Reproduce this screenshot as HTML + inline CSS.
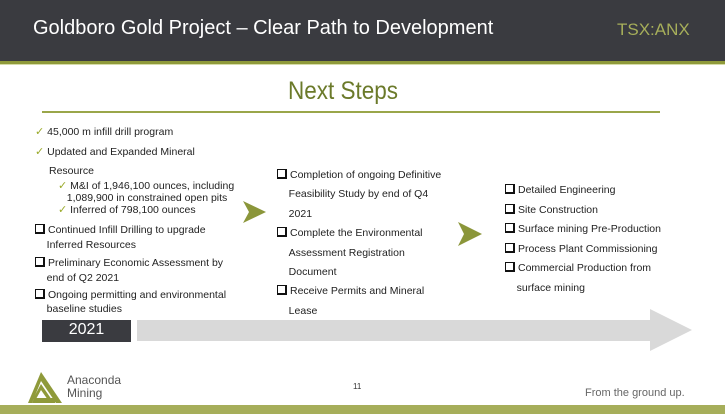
<!DOCTYPE html>
<html><head><style>
body{margin:0;width:725px;height:414px;position:relative;overflow:hidden;background:#fff;font-family:"Liberation Sans Narrow","Liberation Sans",sans-serif;}
.a{position:absolute;white-space:nowrap;}
.t{font-size:10.5px;color:#222;}
.ck{color:#9aaa2a;font-size:11px;}
.bx{display:inline-block;width:7px;height:7px;border:1.5px solid #111;border-right-width:2px;border-bottom-width:2px;margin-right:3px;vertical-align:-1px;}
</style></head><body>
<div class="a" style="left:0;top:0;width:725px;height:61px;background:#3a3b40"></div>
<div class="a" style="left:0;top:61px;width:725px;height:3px;background:#8f9a3a"></div>
<div class="a" style="left:0;top:64px;width:725px;height:1px;background:#d6dca8"></div>
<div class="a" style="left:33px;top:17px;font-size:20px;color:#fff">Goldboro Gold Project – Clear Path to Development</div>
<div class="a" style="left:617px;top:20px;font-size:17px;color:#a6ae5a">TSX:ANX</div>
<div class="a" style="left:288px;top:77px;font-size:25px;color:#6b7a2a;transform:scaleX(0.9);transform-origin:0 0">Next Steps</div>
<div class="a" style="left:42px;top:111px;width:618px;height:2px;background:#9aa64a"></div>

<div class="a t" style="left:35px;top:125px"><span class="ck">✓</span> 45,000 m infill drill program</div>
<div class="a t" style="left:35px;top:145px"><span class="ck">✓</span> Updated and Expanded Mineral</div>
<div class="a t" style="left:49px;top:165px">Resource</div>
<div class="a t" style="left:58px;top:180px;line-height:12px"><span class="ck">✓</span> M&amp;I of 1,946,100 ounces, including<br>&nbsp;&nbsp;&nbsp;1,089,900 in constrained open pits<br><span class="ck">✓</span> Inferred of 798,100 ounces</div>
<div class="a t" style="left:35px;top:223px;line-height:15px"><span class="bx"></span>Continued Infill Drilling to upgrade<br>&nbsp;&nbsp;&nbsp;&nbsp;Inferred Resources</div>
<div class="a t" style="left:35px;top:256px;line-height:15px"><span class="bx"></span>Preliminary Economic Assessment by<br>&nbsp;&nbsp;&nbsp;&nbsp;end of Q2 2021</div>
<div class="a t" style="left:35px;top:288px;line-height:14px"><span class="bx"></span>Ongoing permitting and environmental<br>&nbsp;&nbsp;&nbsp;&nbsp;baseline studies</div>

<div class="a t" style="left:277px;top:166px;line-height:19.4px"><span class="bx"></span>Completion of ongoing Definitive<br>&nbsp;&nbsp;&nbsp;&nbsp;Feasibility Study by end of Q4<br>&nbsp;&nbsp;&nbsp;&nbsp;2021<br><span class="bx"></span>Complete the Environmental<br>&nbsp;&nbsp;&nbsp;&nbsp;Assessment Registration<br>&nbsp;&nbsp;&nbsp;&nbsp;Document<br><span class="bx"></span>Receive Permits and Mineral<br>&nbsp;&nbsp;&nbsp;&nbsp;Lease</div>

<div class="a t" style="left:505px;top:181px;line-height:19.6px"><span class="bx"></span>Detailed Engineering<br><span class="bx"></span>Site Construction<br><span class="bx"></span>Surface mining Pre-Production<br><span class="bx"></span>Process Plant Commissioning<br><span class="bx"></span>Commercial Production from<br>&nbsp;&nbsp;&nbsp;&nbsp;surface mining</div>

<svg class="a" style="left:0;top:0" width="725" height="414">
<polygon points="243,201 266,212 243,223 249,212" fill="#8b963a"/>
<polygon points="458,222 482,234 458,246 464,234" fill="#8b963a"/>
<polygon points="137,320 650,320 650,309 692,330 650,351 650,341 137,341" fill="#d9d9d9"/>
<rect x="42" y="320" width="89" height="22" fill="#3a3b40"/>
<g fill="#8f9a3a"><polygon points="41,372 28,403 32,403 41,381"/><polygon points="41,372 62,403 56,403 41,381"/><polygon points="34,398 57,398 55,403 32,403"/><polygon points="41,384 52,400 48,400 41,390 36,399 33,399"/></g>
<rect x="0" y="405" width="725" height="9" fill="#a6ae5a"/>
</svg>
<div class="a" style="left:42px;top:321px;width:89px;text-align:center;font-size:16px;color:#fff">2021</div>
<div class="a" style="left:67px;top:374px;font-size:12px;color:#555;line-height:13px">Anaconda<br>Mining</div>
<div class="a" style="left:353px;top:382px;font-size:8px;color:#333">11</div>
<div class="a" style="left:585px;top:387px;font-size:11px;color:#666">From the ground up.</div>
</body></html>
